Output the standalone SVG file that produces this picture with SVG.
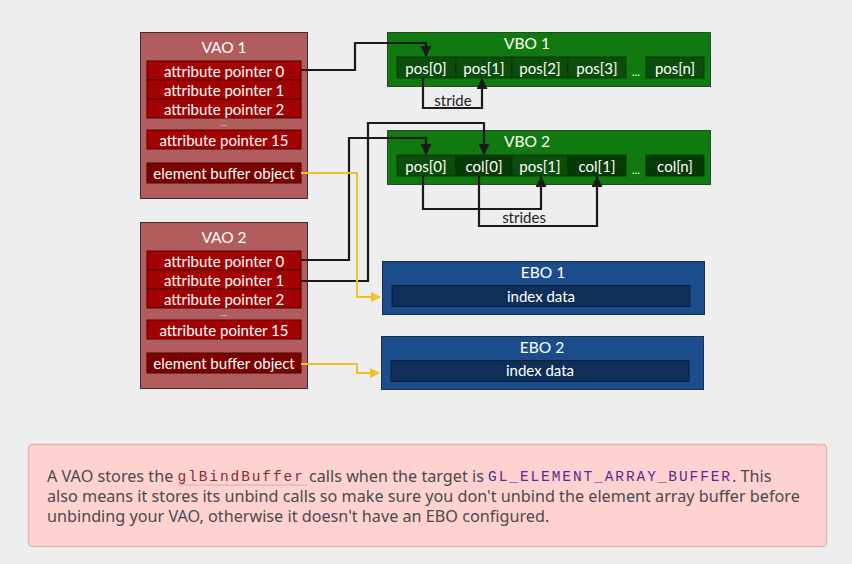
<svg xmlns="http://www.w3.org/2000/svg" width="852" height="564" viewBox="0 0 852 564">
<defs>
<style>
.t{font-family:Lato,"Open Sans","Liberation Sans",sans-serif;font-size:15px;fill:#fff;text-anchor:middle;dominant-baseline:central}
.h{font-size:15.5px}
.vao{fill:#b15c5d;stroke:#4a2a2a;stroke-width:1}
.row{fill:#a30202;stroke:#550000;stroke-width:1}
.ebo-row{fill:#7c0101;stroke:#4a0000;stroke-width:1}
.vbo{fill:#107a10;stroke:#2c452c;stroke-width:1}
.c1{fill:#0b4d0b;stroke:#063006;stroke-width:0.8}
.c2{fill:#063a06;stroke:#063006;stroke-width:0.8}
.ebo{fill:#1b4d8c;stroke:#1d2d45;stroke-width:1}
.idx{fill:#0f2f59;stroke:#0a1c36;stroke-width:1}
.k{fill:none;stroke:#1a1a1a;stroke-width:2.2}
.y{fill:none;stroke:#f5bf2a;stroke-width:2}
.lbl{fill:#222}
.note{font-family:"Noto Sans","Open Sans",sans-serif;font-size:16.2px;fill:#4a4a4a}
.code{font-family:"Liberation Mono",monospace;font-size:14.5px;letter-spacing:1.9px}
</style>
<marker id="ak" viewBox="0 0 10 10" refX="9" refY="5" markerWidth="5" markerHeight="5" orient="auto"><path d="M0,0 L10,5 L0,10 z" fill="#1a1a1a"/></marker>
<marker id="ay" viewBox="0 0 10 10" refX="9" refY="5" markerWidth="5" markerHeight="5" orient="auto"><path d="M0,0 L10,5 L0,10 z" fill="#f5bf2a"/></marker>
</defs>
<rect width="852" height="564" fill="#eeeeee"/>

<g id="vao1">
<rect class="vao" x="140.5" y="32.5" width="167" height="166"/>
<text class="t h" x="224" y="47">VAO 1</text>
<rect class="row" x="147" y="61" width="154" height="19"/>
<text class="t" x="224" y="70.5">attribute pointer 0</text>
<rect class="row" x="147" y="80" width="154" height="19"/>
<text class="t" x="224" y="89.5">attribute pointer 1</text>
<rect class="row" x="147" y="99" width="154" height="19"/>
<text class="t" x="224" y="108.5">attribute pointer 2</text>
<text class="t" x="224" y="122" style="font-size:9px;fill:#ddd">...</text>
<rect class="row" x="147" y="130" width="154" height="19"/>
<text class="t" x="224" y="139.5">attribute pointer 15</text>
<rect class="ebo-row" x="147" y="163" width="154" height="20"/>
<text class="t" x="224" y="173">element buffer object</text>
</g>

<g id="vao2">
<rect class="vao" x="140.5" y="222.5" width="167" height="166"/>
<text class="t h" x="224" y="237">VAO 2</text>
<rect class="row" x="147" y="251" width="154" height="19"/>
<text class="t" x="224" y="260.5">attribute pointer 0</text>
<rect class="row" x="147" y="270" width="154" height="19"/>
<text class="t" x="224" y="279.5">attribute pointer 1</text>
<rect class="row" x="147" y="289" width="154" height="19"/>
<text class="t" x="224" y="298.5">attribute pointer 2</text>
<text class="t" x="224" y="312" style="font-size:9px;fill:#ddd">...</text>
<rect class="row" x="147" y="320" width="154" height="19"/>
<text class="t" x="224" y="329.5">attribute pointer 15</text>
<rect class="ebo-row" x="147" y="353" width="154" height="20"/>
<text class="t" x="224" y="363">element buffer object</text>
</g>

<g id="vbo1">
<rect class="vbo" x="387.5" y="32.5" width="323" height="54"/>
<text class="t h" x="527" y="43">VBO 1</text>
<rect class="c1" x="397" y="57" width="59" height="21"/>
<text class="t" x="426" y="67.5">pos[0]</text>
<rect class="c1" x="456" y="57" width="56" height="21"/>
<text class="t" x="484" y="67.5">pos[1]</text>
<rect class="c1" x="512" y="57" width="56" height="21"/>
<text class="t" x="540" y="67.5">pos[2]</text>
<rect class="c1" x="568" y="57" width="58" height="21"/>
<text class="t" x="597" y="67.5">pos[3]</text>
<text class="t" x="636" y="71" style="font-size:11px">...</text>
<rect class="c1" x="646" y="57" width="58" height="21"/>
<text class="t" x="675" y="67.5">pos[n]</text>
</g>

<g id="vbo2">
<rect class="vbo" x="387.5" y="130.5" width="323" height="54"/>
<text class="t h" x="527" y="141">VBO 2</text>
<rect class="c1" x="397" y="155" width="59" height="21"/>
<text class="t" x="426" y="165.5">pos[0]</text>
<rect class="c2" x="456" y="155" width="56" height="21"/>
<text class="t" x="484" y="165.5">col[0]</text>
<rect class="c1" x="512" y="155" width="56" height="21"/>
<text class="t" x="540" y="165.5">pos[1]</text>
<rect class="c2" x="568" y="155" width="58" height="21"/>
<text class="t" x="597" y="165.5">col[1]</text>
<text class="t" x="636" y="169" style="font-size:11px">...</text>
<rect class="c2" x="646" y="155" width="58" height="21"/>
<text class="t" x="675" y="165.5">col[n]</text>
</g>

<g id="ebo1">
<rect class="ebo" x="382.5" y="261.5" width="322" height="53"/>
<text class="t h" x="543" y="272">EBO 1</text>
<rect class="idx" x="392" y="285.5" width="298" height="21"/>
<text class="t" x="541" y="295.5">index data</text>
</g>

<g id="ebo2">
<rect class="ebo" x="381.5" y="336.5" width="322" height="53"/>
<text class="t h" x="542" y="347">EBO 2</text>
<rect class="idx" x="391" y="360.5" width="298" height="21"/>
<text class="t" x="540" y="370">index data</text>
</g>

<g id="connectors">
<polyline class="k" points="301,70 355,70 355,43 426,43 426,56" marker-end="url(#ak)"/>
<polyline class="k" points="423,78 423,108 482,108 482,79" marker-end="url(#ak)"/>
<text class="t lbl" x="453" y="99.5">stride</text>
<polyline class="k" points="301,260 349,260 349,138 426,138 426,154" marker-end="url(#ak)"/>
<polyline class="k" points="301,281 368,281 368,123 484,123 484,154" marker-end="url(#ak)"/>
<polyline class="k" points="423,176 423,209 541,209 541,177" marker-end="url(#ak)"/>
<polyline class="k" points="479,176 479,226 597,226 597,177" marker-end="url(#ak)"/>
<text class="t lbl" x="524" y="216.5">strides</text>
<polyline class="y" points="301,173 357,173 357,297 380,297" marker-end="url(#ay)"/>
<polyline class="y" points="301,364 357,364 357,373 379,373" marker-end="url(#ay)"/>
</g>

<g id="note">
<rect x="28.5" y="444.5" width="798" height="102" rx="4" fill="#ffd2d2" stroke="#e6b3b3" stroke-width="1.5"/>
<text class="note" x="47" y="482">A VAO stores the <tspan class="code" fill="#8b2a2a" dy="-1.5">glBindBuffer</tspan><tspan dy="1.5"> calls when the target is </tspan><tspan class="code" fill="#5a2a8a" dy="-1.5">GL_ELEMENT_ARRAY_BUFFER</tspan><tspan dy="1.5">. This</tspan></text>
<line x1="178" y1="485" x2="307" y2="485" stroke="#d8a8a8" stroke-width="1"/>
<text class="note" x="47" y="502">also means it stores its unbind calls so make sure you don't unbind the element array buffer before</text>
<text class="note" x="47" y="522">unbinding your VAO, otherwise it doesn't have an EBO configured.</text>
</g>
</svg>
